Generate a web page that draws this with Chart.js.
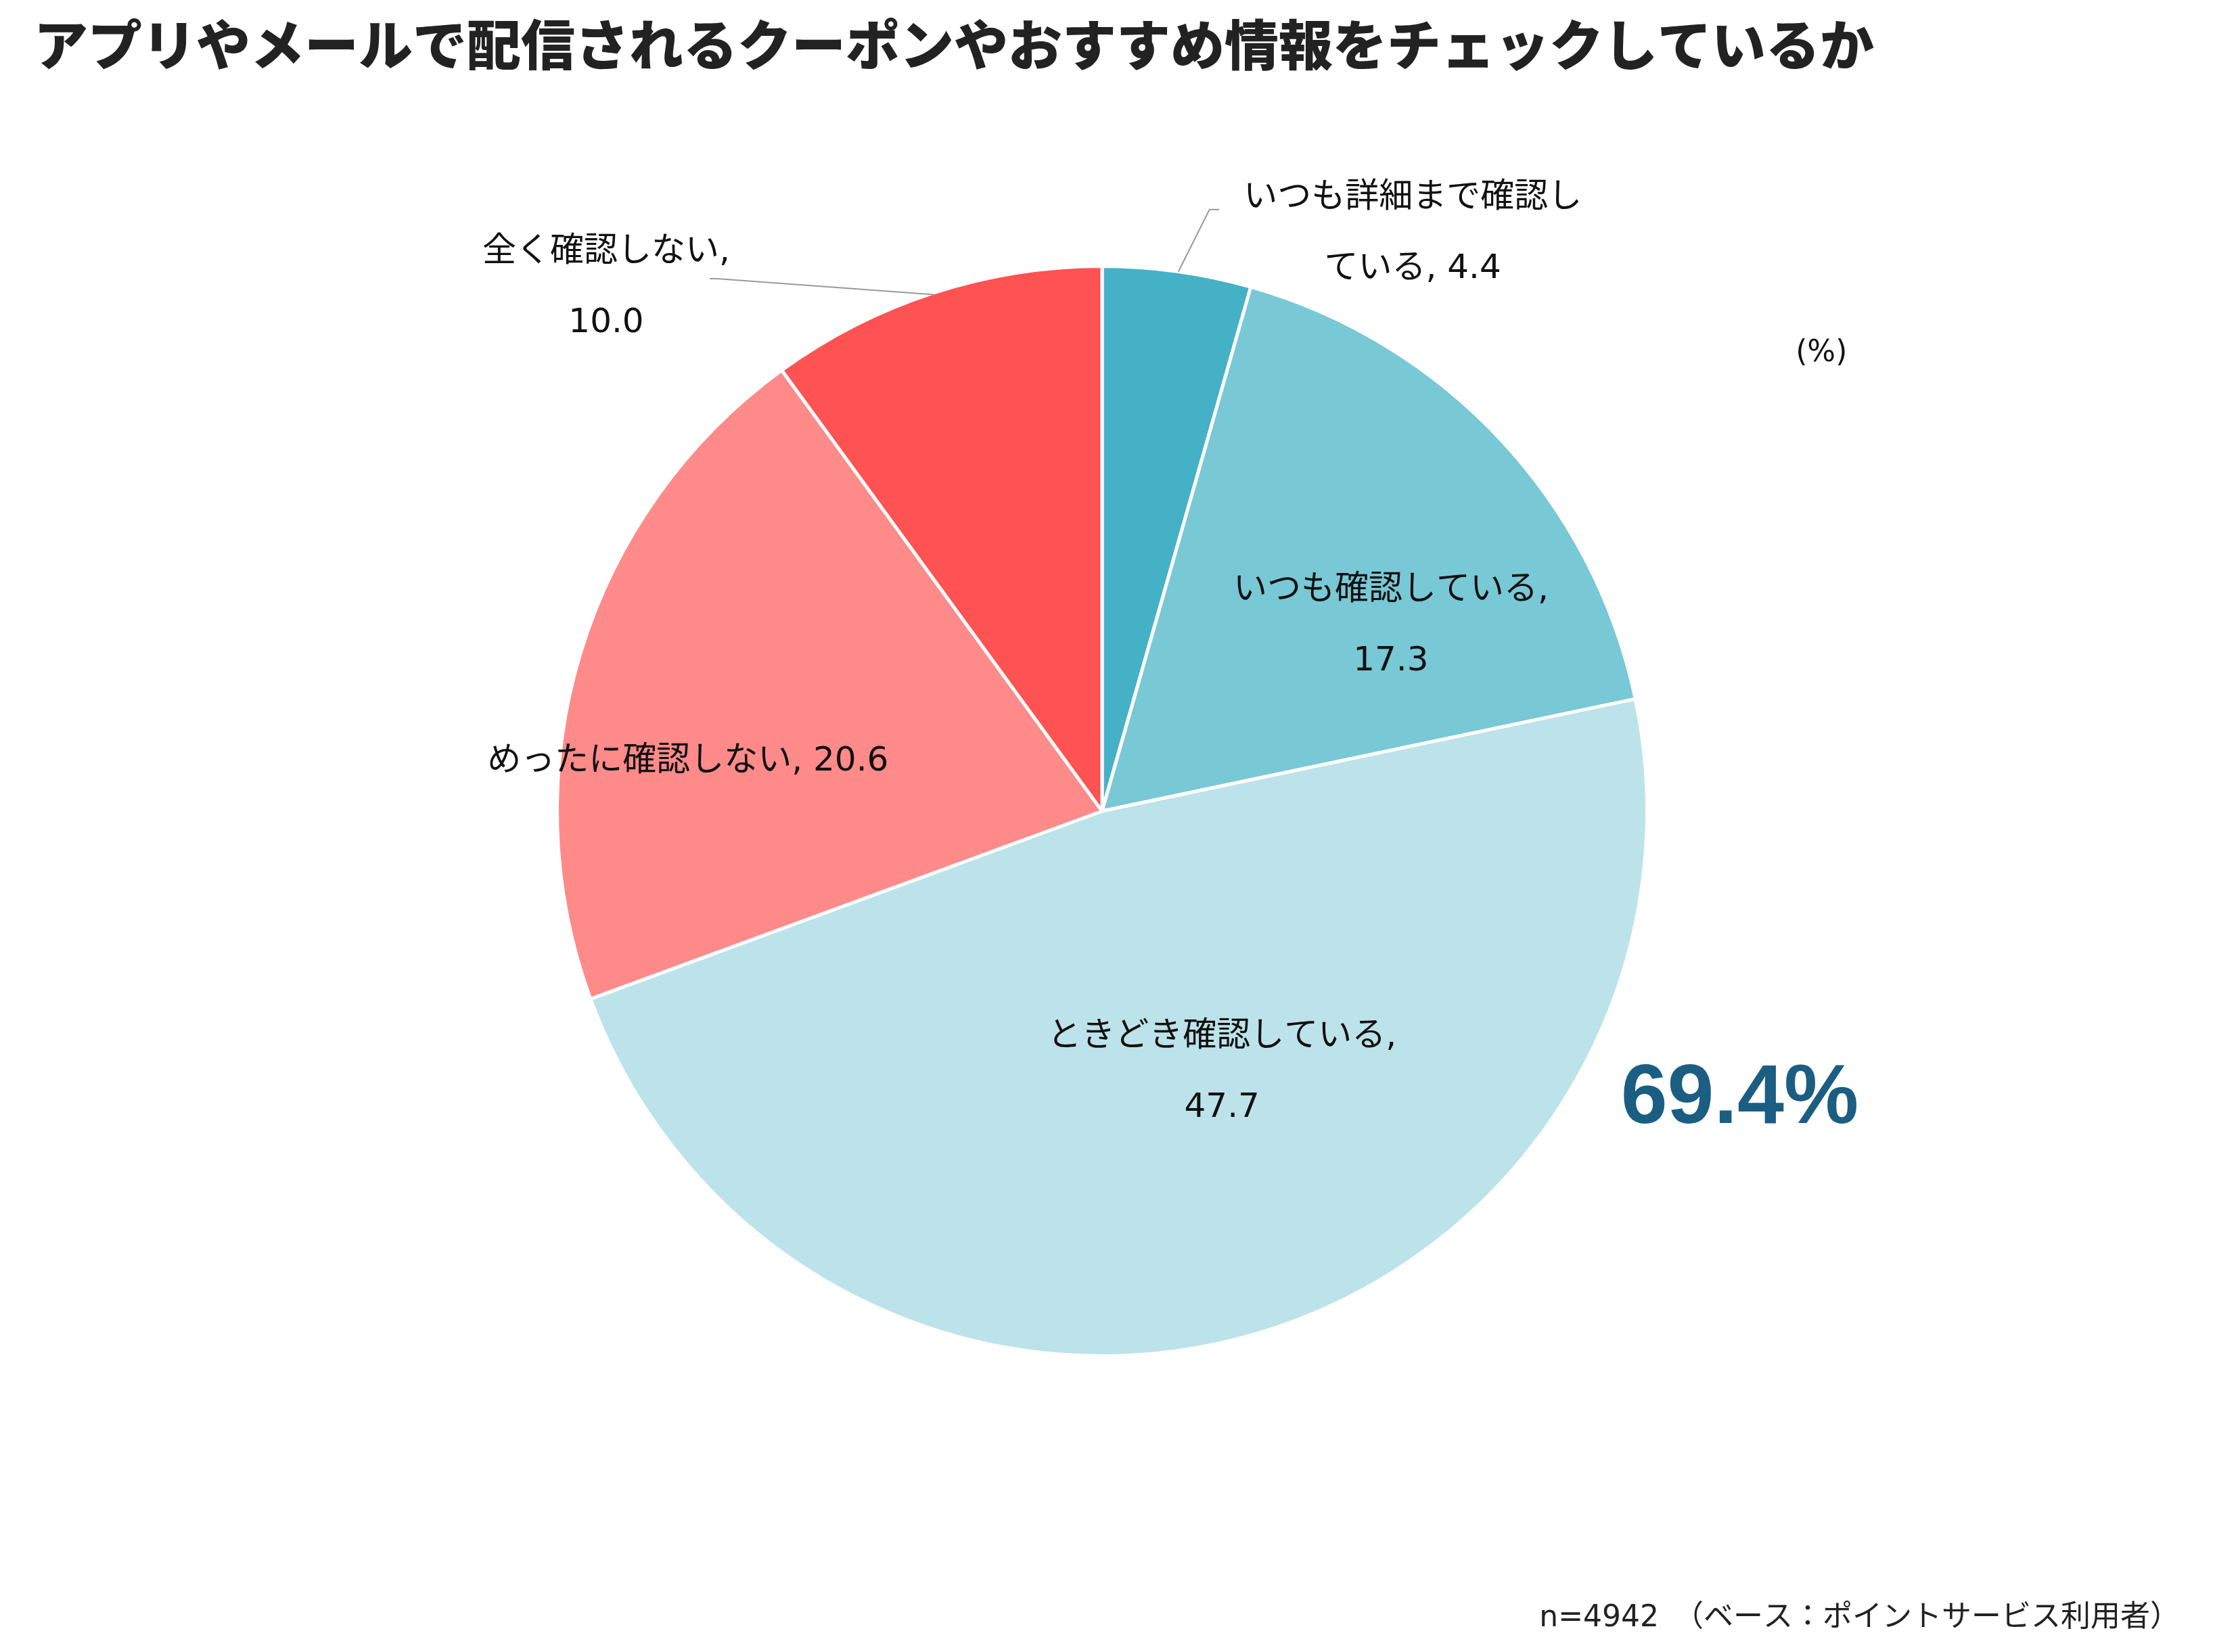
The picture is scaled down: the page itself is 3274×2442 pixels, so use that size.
<!DOCTYPE html>
<html><head><meta charset="utf-8">
<script src="https://cdn.jsdelivr.net/npm/chart.js@4"></script>
<style>html,body{margin:0;padding:0;background:#fff}canvas{display:block}</style>
</head><body>
<canvas id="c" width="3274" height="2442" style="width:3274px;height:2442px"></canvas>
<script>
const categories = ["いつも詳細まで確認している","いつも確認している","ときどき確認している","めったに確認しない","全く確認しない"];
const values = [4.4, 17.3, 47.7, 20.6, 10.0];
const colors = ["#45B1C7","#79C8D6","#BDE3EA","#FF8A8A","#FF5252"];
const labelLines = [["いつも詳細まで確認し","ている, 4.4"],["いつも確認している,","17.3"],["ときどき確認している,","47.7"],["めったに確認しない, 20.6"],["全く確認しない,","10.0"]];
const title = "アプリやメールで配信されるクーポンやおすすめ情報をチェックしているか";
const highlight = "69.4%";
const footer = "n=4942　（ベース：ポイントサービス利用者）";
const FONT = '"DejaVu Sans","Noto Sans CJK JP",sans-serif';
// label centers relative to pie centre, in radius units
const labelPos = [[0.57,-1.06],[0.53,-0.34],[0.22,0.48],[-0.76,-0.09],[-0.91,-0.96]];
const leaders = {0:[[0.14,-0.99],[0.197,-1.104],[0.215,-1.104]],4:[[-0.309,-0.948],[-0.706,-0.977],[-0.72,-0.977]]};

const plug = {
  id:'deco',
  afterDraw(chart){
    const ctx = chart.ctx;
    const arc = chart.getDatasetMeta(0).data[0];
    const cx = arc.x, cy = arc.y, r = arc.outerRadius;
    ctx.save();
    ctx.fillStyle = '#222';
    ctx.font = '900 80px "Noto Sans CJK JP",sans-serif';
    ctx.textBaseline = 'middle'; ctx.textAlign = 'left';
    ctx.fillText(title, 50, 66);
    ctx.font = '50px ' + FONT; ctx.textAlign = 'center'; ctx.fillStyle = '#111';
    labelLines.forEach((ls,i)=>{
      const [px,py] = labelPos[i];
      const x = cx + px*r, y0 = cy + py*r - (ls.length-1)*105/2;
      ls.forEach((t,j)=>ctx.fillText(t, x, y0 + j*105));
    });
    ctx.strokeStyle = '#999'; ctx.lineWidth = 2;
    Object.values(leaders).forEach(pts=>{
      ctx.beginPath();
      pts.forEach((p,k)=>{const X=cx+p[0]*r,Y=cy+p[1]*r; k?ctx.lineTo(X,Y):ctx.moveTo(X,Y);});
      ctx.stroke();
    });
    ctx.font = '44px ' + FONT;
    ctx.fillText('(%)', cx + 1.32*r, cy - 0.84*r);
    ctx.font = 'bold 124px "Liberation Sans",Arial,sans-serif';
    ctx.fillStyle = '#1B5E82';
    ctx.fillText(highlight, cx + 1.17*r, cy + 0.53*r);
    ctx.font = '44px ' + FONT; ctx.fillStyle = '#222'; ctx.textAlign = 'right';
    ctx.fillText(footer, 3222, 2393);
    ctx.restore();
  }
};

new Chart(document.getElementById('c'), {
  type:'pie',
  data:{labels:categories, datasets:[{data:values, backgroundColor:colors, borderColor:'#fff', borderWidth:5}]},
  options:{
    responsive:false, devicePixelRatio:1, animation:false,
    layout:{padding:{top:391,bottom:435,left:821,right:837}},
    plugins:{legend:{display:false},tooltip:{enabled:false},title:{display:false}}
  },
  plugins:[plug]
});
</script>
</body></html>
